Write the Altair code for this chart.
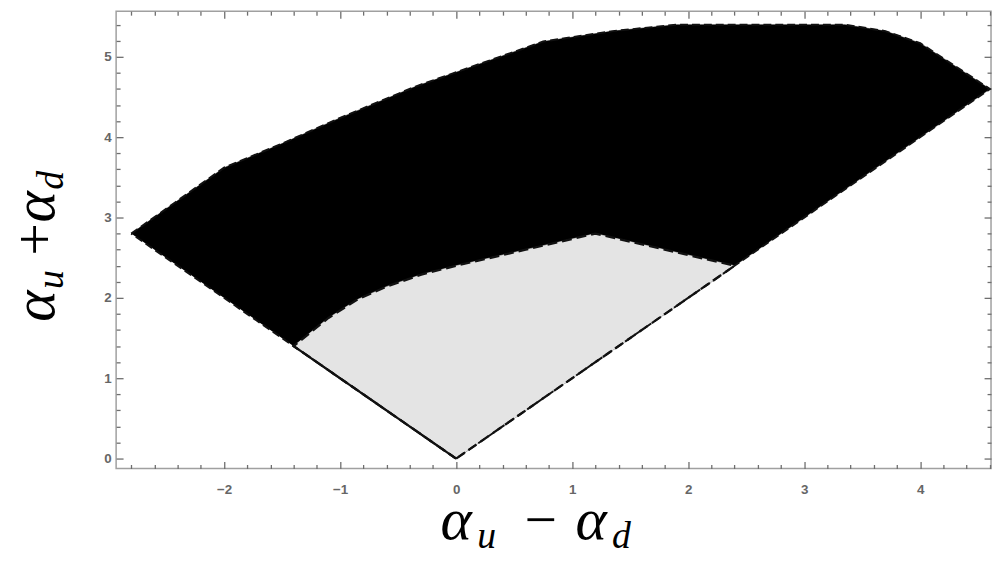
import altair as alt
import pandas as pd

# ---- data ----
# outer (black) region: upper curve from left vertex to right vertex, then down to the origin
outer_x = [-2.8, -2.0, -1.5, -1.0, -0.35, 0.75, 1.35, 1.9, 3.35, 3.7, 4.0, 4.6, 0.0]
outer_y = [2.8, 3.62, 3.92, 4.24, 4.63, 5.19, 5.32, 5.4, 5.4, 5.32, 5.17, 4.6, 0.0]
# inner (light gray) region
inner_x = [0.0, 2.4, 1.2, 0.6, 0.0, -0.3, -0.6, -0.85, -1.1, -1.4]
inner_y = [0.0, 2.4, 2.8, 2.6, 2.4, 2.29, 2.14, 1.98, 1.75, 1.4]

x_major = [-2, -1, 0, 1, 2, 3, 4]
y_major = [0, 1, 2, 3, 4, 5]
x_minor = [v for v in (round(-2.8 + 0.2 * i, 1) for i in range(38)) if abs(v - round(v)) > 1e-9]
y_minor = [v for v in (round(0.2 * i, 1) for i in range(28)) if abs(v - round(v)) > 1e-9]

x_title_parts = ["α", "u", "−", "α", "d"]
y_title_parts = ["α", "u", "+", "α", "d"]

X_DOMAIN = [-2.93, 4.61]
Y_DOMAIN = [-0.123, 5.568]
W, H = 882, 461

def poly_df(xs, ys, close=False):
    xs, ys = list(xs), list(ys)
    if close:
        xs, ys = xs + [xs[0]], ys + [ys[0]]
    return pd.DataFrame({"x": xs, "y": ys, "i": range(len(xs))})

TICK = "#6e6e6e"
LAB = "#666666"

def axis(orient, values, size, labels):
    # ticks point inward: the axis is moved inside the frame by its tick length
    kw = dict(
        orient=orient, values=values, ticks=True, tickSize=size, offset=-size,
        tickColor=TICK, tickWidth=1.3, tickOpacity=1, domain=False, grid=False, title=None,
        labels=labels,
    )
    if labels:
        kw.update(labelColor=LAB, labelFont="Liberation Sans", labelFontWeight="bold",
                  labelFontSize=13.5, format="d")
        kw.update(labelPadding=14 if orient == "bottom" else 5)
    return alt.Axis(**kw)

def enc(xaxis, yaxis):
    return dict(
        x=alt.X("x:Q", scale=alt.Scale(domain=X_DOMAIN, nice=False, zero=False), axis=xaxis),
        y=alt.Y("y:Q", scale=alt.Scale(domain=Y_DOMAIN, nice=False, zero=False), axis=yaxis),
        order=alt.Order("i:Q"),
    )

black = alt.Chart(poly_df(outer_x, outer_y)).mark_line(
    fill="black", stroke="black", strokeWidth=0.5
).encode(**enc(axis("bottom", x_major, 7, True), axis("left", y_major, 7, True)))

gray = alt.Chart(poly_df(inner_x, inner_y)).mark_line(
    fill="#e4e4e4", stroke="#e4e4e4", strokeWidth=0.5
).encode(**enc(axis("bottom", x_minor, 4, False), axis("left", y_minor, 4, False)))

outer_line = alt.Chart(poly_df(outer_x, outer_y, close=True)).mark_line(
    stroke="#111", strokeWidth=2, strokeDash=[8, 4]
).encode(**enc(axis("top", x_major, 7, False), axis("right", y_major, 7, False)))

inner_line = alt.Chart(poly_df(inner_x, inner_y, close=True)).mark_line(
    stroke="#111", strokeWidth=2.3, strokeDash=[10, 5]
).encode(**enc(axis("top", x_minor, 4, False), axis("right", y_minor, 4, False)))

# the shared lower-left edge of both regions, where the two dashed outlines overlap
shared_edge = alt.Chart(poly_df([inner_x[-1], inner_x[0]], [inner_y[-1], inner_y[0]])).mark_line(
    stroke="#111", strokeWidth=2.3
).encode(
    x=alt.X("x:Q", scale=alt.Scale(domain=X_DOMAIN, nice=False, zero=False), axis=None),
    y=alt.Y("y:Q", scale=alt.Scale(domain=Y_DOMAIN, nice=False, zero=False), axis=None),
    order=alt.Order("i:Q"),
)

# ---- axis titles built from text pieces (main + subscripts) ----
def piece(txt, px, py, size, italic=True, angle=0, align="left"):
    kw = dict(fontSize=size, font="Liberation Serif", align=align, baseline="alphabetic",
              color="black")
    if italic:
        kw["fontStyle"] = "italic"
    if angle:
        kw["angle"] = angle
    return alt.Chart(pd.DataFrame({"t": [txt]})).mark_text(**kw).encode(
        x=alt.value(px), y=alt.value(py), text="t:N")

BIG, SUB, OP = 60, 38, 58
xt = [
    piece(x_title_parts[0], 327, 532, BIG),
    piece(x_title_parts[1], 364, 541, SUB),
    piece(x_title_parts[2], 428, 532, OP, italic=False, align="center"),
    piece(x_title_parts[3], 463, 532, BIG),
    piece(x_title_parts[4], 500, 541, SUB),
]
yt = [
    piece(y_title_parts[0], -63, 313, BIG, angle=270),
    piece(y_title_parts[1], -54, 280, SUB, angle=270),
    piece(y_title_parts[2], -63, 230, OP, italic=False, angle=270, align="center"),
    piece(y_title_parts[3], -63, 213, BIG, angle=270),
    piece(y_title_parts[4], -54, 180, SUB, angle=270),
]

chart = alt.layer(black, gray, outer_line, inner_line, shared_edge, *xt, *yt).resolve_axis(
    x="independent", y="independent"
).properties(
    width=W, height=H,
    autosize=alt.AutoSizeParams(type="none"),
    padding={"left": 109, "top": 1, "right": 3, "bottom": 85},
).configure_view(stroke="#a0a0a0", strokeWidth=1.5)

chart.save("out.html", embed_options={"renderer": "svg", "actions": False})
